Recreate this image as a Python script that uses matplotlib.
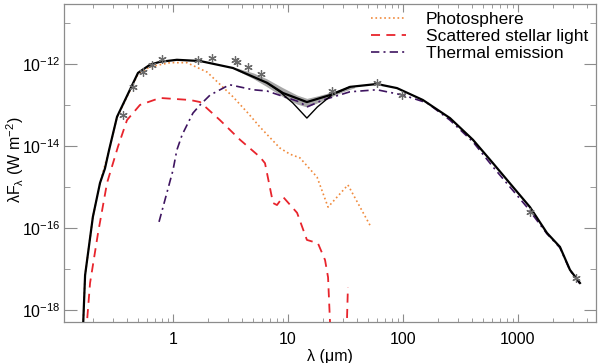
import numpy as np
import matplotlib.pyplot as plt
from matplotlib.ticker import FixedLocator, NullFormatter, LogLocator

plt.rcParams['font.family'] = ['Liberation Sans', 'DejaVu Sans']
plt.rcParams['mathtext.fontset'] = 'custom'
plt.rcParams['mathtext.rm'] = 'Liberation Sans'
plt.rcParams['mathtext.it'] = 'Liberation Sans:italic'
plt.rcParams['mathtext.default'] = 'regular'

# wavelengths in micron, fluxes as log10(lambda F_lambda / W m^-2)
total_wave = [0.162, 0.172, 0.201, 0.232, 0.256, 0.278, 0.326, 0.496, 0.631, 0.770, 1.08, 1.72,
              3.32, 6.56, 9.05, 14.6, 23.2, 34.6, 59.4, 88.7, 149, 256, 406, 606, 905,
              1271, 1786, 2317, 2832, 3459]
total_logf = [-19.0, -17.15, -15.73, -14.90, -14.55, -14.10, -13.29, -12.22, -12.02, -11.95, -11.90, -11.93,
              -12.10, -12.46, -12.71, -12.93, -12.76, -12.56, -12.49, -12.59, -12.88, -13.32, -13.85, -14.42, -15.0,
              -15.49, -16.12, -16.46, -17.02, -17.34]

alt_wave = [6.56, 8.5, 11.0, 14.6, 18.0, 24.0, 34.6]
alt_logf = [-12.46, -12.68, -12.95, -13.32, -13.05, -12.76, -12.56]

band_wave = [3.6, 5.0, 6.5, 9.0, 12.0, 14.6, 18.0, 23.0, 30.0, 38.0]
band_hi = [-12.10, -12.22, -12.36, -12.58, -12.76, -12.84, -12.78, -12.70, -12.60, -12.55]
band_lo = [-12.16, -12.36, -12.55, -12.80, -12.98, -13.05, -12.95, -12.82, -12.68, -12.58]

phot_wave = [0.162, 0.172, 0.201, 0.232, 0.278, 0.326, 0.496, 0.631, 0.942, 1.32, 1.98,
             3.32, 4.49, 5.71, 8.5, 10.4, 12.7, 17.9, 22.3, 33.2, 51.6]
phot_logf = [-19.0, -17.15, -15.73, -14.90, -14.10, -13.30, -12.25, -12.07, -11.97, -11.97, -12.20,
             -12.80, -13.20, -13.54, -14.05, -14.20, -14.29, -14.76, -15.49, -14.95, -15.93]

scat_wave = [0.165, 0.190, 0.223, 0.267, 0.332, 0.398, 0.516, 0.770, 1.41, 1.72, 2.56,
             3.83, 5.71, 6.31, 7.41, 8.02, 9.05, 12.0, 14.6, 18.2, 21.0, 22.3, 23.2,
             24.5, 30.5, 33.2]
scat_logf = [-19.5, -17.34, -16.12, -14.90, -14.02, -13.37, -13.0, -12.83, -12.88, -12.93, -13.37,
             -13.85, -14.27, -14.42, -15.39, -15.44, -15.24, -15.63, -16.29, -16.37, -16.78, -17.20, -18.3,
             -21.0, -21.0, -17.44]

therm_wave = [0.756, 1.0, 1.08, 1.20, 1.49, 1.72, 2.10, 2.95, 3.13, 4.96, 6.56, 12.7, 14.6, 20.2,
              34.6, 59.4, 100, 162, 256, 406, 606, 1197, 1786, 2317, 2832, 3459]
therm_logf = [-15.85, -14.59, -14.10, -13.73, -13.20, -13.0, -12.76, -12.54, -12.51, -12.63, -12.66, -12.93, -13.05, -12.88,
              -12.68, -12.63, -12.76, -12.95, -13.37, -13.90, -14.51, -15.49, -16.14, -16.48, -17.03, -17.36]

obs_wave = [0.367, 0.449, 0.548, 0.657, 0.802, 1.65, 2.18, 3.45, 3.60, 4.49, 5.82, 24.3, 59.4, 98, 1271, 3193]
obs_logf = [-13.24, -12.56, -12.20, -12.02, -11.88, -11.90, -11.85, -11.90, -11.95, -12.07, -12.24, -12.67, -12.46, -12.76, -15.61, -17.22]


def f(a):
    return 10.0 ** np.array(a)


fig = plt.figure(figsize=(6.0, 3.63), dpi=100)
ax = fig.add_axes([0.1067, 0.113, 0.8866, 0.876])

ax.fill_between(band_wave, f(band_lo), f(band_hi), color='#a8a8a8', lw=0, zorder=2)
ax.plot(phot_wave, f(phot_logf), ls=':', color='#f08a3c', lw=1.2, label='Photosphere', zorder=3)
ax.plot(scat_wave, f(scat_logf), ls=(0, (5, 3.5)), color='#e8242c', lw=1.3,
        label='Scattered stellar light', zorder=3)
ax.plot(therm_wave, f(therm_logf), ls=(0, (5, 2.5, 1.2, 2.5)), color='#3e1460', lw=1.2,
        label='Thermal emission', zorder=3)
ax.plot(alt_wave, f(alt_logf), color='black', lw=1.0, zorder=4)
ax.plot(total_wave, f(total_logf), color='black', lw=1.6, zorder=4)
ax.plot(obs_wave, f(obs_logf), ls='none', marker=(6, 2, 0), ms=6, mew=0.9,
        color='#6a6a6a', zorder=5)

ax.set_xscale('log')
ax.set_yscale('log')
ax.set_xlim(0.1128, 4767)
ax.set_ylim(10 ** -18.29, 10 ** -10.54)

ax.set_xticks([1, 10, 100, 1000])
ax.set_xticklabels(['1', '10', '100', '1000'])
ax.xaxis.set_minor_locator(LogLocator(base=10, subs=np.arange(2, 10)))
ax.xaxis.set_minor_formatter(NullFormatter())

ax.set_yticks([1e-18, 1e-16, 1e-14, 1e-12])
ax.set_yticklabels(['10$^{-18}$', '10$^{-16}$', '10$^{-14}$', '10$^{-12}$'])
ax.yaxis.set_minor_locator(FixedLocator([1e-17, 1e-15, 1e-13, 1e-11]))
ax.yaxis.set_minor_formatter(NullFormatter())

grey = '#8c8c8c'
for s in ax.spines.values():
    s.set_color(grey)
    s.set_linewidth(0.9)
ax.tick_params(axis='both', which='both', direction='in', top=True, right=True,
               color=grey, labelsize=11.5, labelcolor='black')
ax.tick_params(axis='x', which='major', length=6, pad=7)
ax.tick_params(axis='x', which='minor', length=3)
ax.tick_params(axis='y', which='major', length=9, pad=2.5)
ax.tick_params(axis='y', which='minor', length=4.5)

ax.set_xlabel('λ (μm)', fontsize=11.5, labelpad=2)
ax.set_ylabel('λF$_λ$ (W m$^{-2}$)', fontsize=11.5)
ax.yaxis.set_label_coords(-0.072, 0.51)

ax.legend(loc='upper right', bbox_to_anchor=(1.008, 1.012), frameon=False, fontsize=12.5,
          handlelength=2.0, handletextpad=1.15, labelspacing=0.1, borderaxespad=0.3)

fig.savefig('out.png', dpi=100)
